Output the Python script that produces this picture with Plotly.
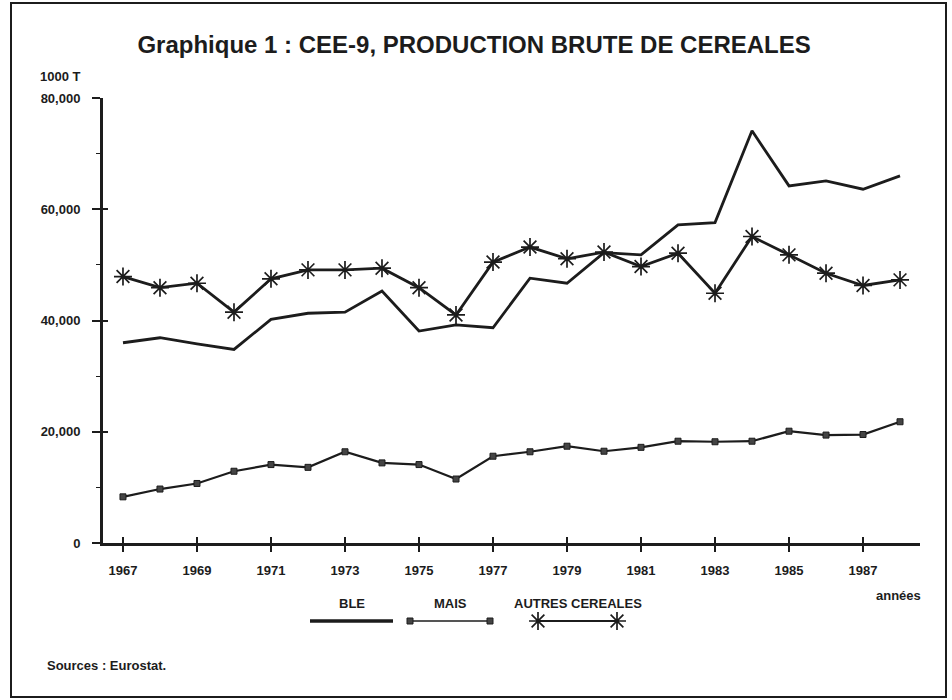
import plotly.graph_objects as go

years = list(range(1967, 1989))
ble = [36000, 36900, 35800, 34800, 40200, 41300, 41500, 45300, 38100, 39200, 38700,
       47600, 46700, 52200, 51800, 57200, 57600, 74100, 64200, 65100, 63600, 66000]
mais = [8300, 9700, 10700, 12900, 14100, 13600, 16400, 14400, 14100, 11500, 15600,
        16400, 17400, 16500, 17200, 18300, 18200, 18300, 20100, 19400, 19500, 21800]
autres = [47900, 45900, 46700, 41500, 47500, 49100, 49100, 49400, 45900, 41000, 50500,
          53200, 51100, 52300, 49700, 52100, 44900, 55100, 51800, 48500, 46300, 47300]
series_names = ["BLE", "MAIS", "AUTRES CEREALES"]
x_tickvals = list(range(1967, 1989, 2))
x_ticktext = [str(v) for v in x_tickvals]
y_tickvals = [0, 20000, 40000, 60000, 80000]

INK = "#1c1c1c"
FONT = "Liberation Sans, Arial, sans-serif"

# page geometry (pixels)
W, H = 952, 700
L, R, T, B = 103, 32, 98, 0
PLOT_BOTTOM = 543
pw, ph = W - L - R, H - T - B


def px_x(p):
    return (p - L) / pw


def px_y(p):
    return (H - p) / ph


# styles per series
styles = [
    dict(mode="lines", line=dict(color=INK, width=2.8)),
    dict(mode="lines+markers", line=dict(color=INK, width=2.2),
         marker=dict(symbol="square", size=6, color="#444", line=dict(color=INK, width=1))),
    dict(mode="lines+markers", line=dict(color=INK, width=2.8),
         marker=dict(symbol="asterisk-open", size=15, line=dict(color=INK, width=1.7))),
]

fig = go.Figure()
for name, vals, st in zip(series_names, [ble, mais, autres], styles):
    fig.add_trace(go.Scatter(x=years, y=vals, name=name, showlegend=False, **st))

# custom legend (label above sample line), drawn on a hidden helper axis in page pixels
leg_x0 = [310, 410, 538]
leg_x1 = [393, 490, 617]
leg_label_y = 603
for name, st, a, b in zip(series_names, styles, leg_x0, leg_x1):
    leg_st = dict(st)
    if "line" in leg_st:
        leg_st["line"] = dict(leg_st["line"], width=leg_st["line"]["width"] * (1.3 if name == "BLE" else 0.7))
    fig.add_trace(go.Scatter(x=[a, b], y=[0.5, 0.5], xaxis="x2", yaxis="y2",
                             showlegend=False, hoverinfo="skip", **leg_st))
    fig.add_annotation(text=name, xref="paper", yref="paper", x=px_x((a + b) / 2), y=px_y(leg_label_y),
                       xanchor="center", yanchor="middle", showarrow=False,
                       font=dict(family=FONT, size=13, color=INK, weight="bold"))

# empty trace to carry the inner half of the crossing ticks
fig.add_trace(go.Scatter(x=[], y=[], xaxis="x3", yaxis="y3", showlegend=False, hoverinfo="skip"))

axis_common = dict(showgrid=False, zeroline=False, showline=True, linewidth=3, linecolor=INK,
                   tickcolor=INK, tickwidth=1.5, automargin=False)
tickfont = dict(family=FONT, size=13, color=INK, weight="bold")

fig.update_layout(
    width=W, height=H,
    margin=dict(l=L, r=R, t=T, b=B, autoexpand=False),
    paper_bgcolor="white", plot_bgcolor="rgba(0,0,0,0)",
    font=dict(family=FONT, color=INK, size=13),
    title=dict(text="Graphique 1 : CEE-9, PRODUCTION BRUTE DE CEREALES",
               x=0.498, xref="container", xanchor="center",
               y=1 - 45 / H, yref="container", yanchor="middle",
               font=dict(family=FONT, size=24, color=INK, weight="bold")),
    showlegend=False,
    xaxis=dict(range=[1966.46, 1988.54], tickvals=x_tickvals, ticktext=x_ticktext,
               ticks="outside", ticklen=6, ticklabelstandoff=7, tickfont=tickfont,
               anchor="y", **axis_common),
    yaxis=dict(range=[0, 80000], tickvals=y_tickvals, tickformat=",",
               domain=[px_y(PLOT_BOTTOM), 1], anchor="x",
               ticks="outside", ticklen=8, ticklabelstandoff=9, tickfont=tickfont,
               minor=dict(dtick=10000, ticks="outside", ticklen=4, tickcolor=INK, tickwidth=1),
               **axis_common),
    xaxis3=dict(range=[1966.46, 1988.54], tickvals=x_tickvals, ticks="inside", ticklen=6,
                tickcolor=INK, tickwidth=1.5, showticklabels=False, showline=False,
                showgrid=False, zeroline=False, overlaying="x", anchor="y3", automargin=False),
    yaxis3=dict(range=[0, 80000], tickvals=y_tickvals, ticks="inside", ticklen=5,
                tickcolor=INK, tickwidth=1.5, showticklabels=False, showline=False,
                showgrid=False, zeroline=False, overlaying="y", anchor="x3",
                domain=[px_y(PLOT_BOTTOM), 1], automargin=False),
    xaxis2=dict(range=[L, W - R], domain=[0, 1], anchor="y2", visible=False, fixedrange=True,
                automargin=False),
    yaxis2=dict(range=[0, 1], domain=[px_y(632), px_y(610)], anchor="x2", visible=False,
                fixedrange=True, automargin=False),
)

fig.add_annotation(text="1000 T", xref="paper", yref="paper", x=px_x(83), y=px_y(77),
                   xanchor="right", yanchor="middle", showarrow=False,
                   font=dict(family=FONT, size=13, color=INK, weight="bold"))
fig.add_annotation(text="années", xref="paper", yref="paper", x=px_x(923), y=px_y(595),
                   xanchor="right", yanchor="middle", showarrow=False,
                   font=dict(family=FONT, size=13, color=INK, weight="bold"))
fig.add_annotation(text="Sources : Eurostat.", xref="paper", yref="paper", x=px_x(45), y=px_y(665),
                   xanchor="left", yanchor="middle", showarrow=False,
                   font=dict(family=FONT, size=13, color=INK, weight="bold"))

fig.add_shape(type="rect", xref="paper", yref="paper",
              x0=px_x(11), x1=px_x(946), y0=px_y(697), y1=px_y(3),
              line=dict(color=INK, width=2), fillcolor="rgba(0,0,0,0)", layer="below")

fig.write_html("out.html", config={"displayModeBar": False},
               post_script="document.body.style.margin='0';document.body.style.overflow='hidden';")
